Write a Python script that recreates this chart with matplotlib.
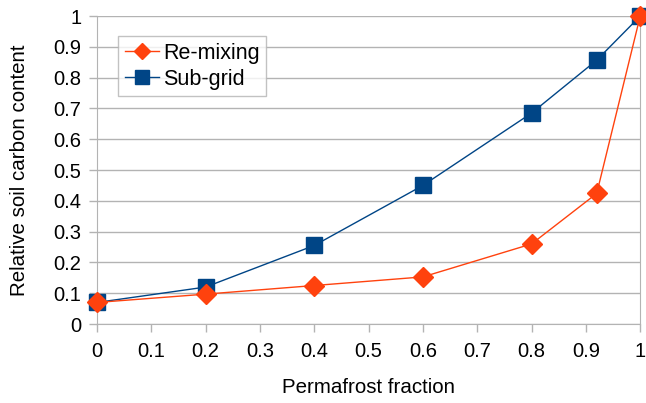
import matplotlib.pyplot as plt

plt.rcParams['font.family'] = ['Liberation Sans', 'DejaVu Sans']

frac = [0, 0.2, 0.4, 0.6, 0.8, 0.92, 1.0]
remixing = [0.07, 0.097, 0.125, 0.153, 0.26, 0.424, 1.0]
subgrid = [0.07, 0.12, 0.255, 0.45, 0.685, 0.857, 1.0]

xticks = [0, 0.1, 0.2, 0.3, 0.4, 0.5, 0.6, 0.7, 0.8, 0.9, 1]
yticks = [0, 0.1, 0.2, 0.3, 0.4, 0.5, 0.6, 0.7, 0.8, 0.9, 1]

fig = plt.figure(figsize=(6.46, 4.03), dpi=100)
ax = fig.add_axes([0.150, 0.196, 0.841, 0.764])

grid_c = '#b3b3b3'
ax.plot(frac, subgrid, color='#004586', lw=1, marker='s', ms=12,
        label='Sub-grid', zorder=3, clip_on=False)
ax.plot(frac, remixing, color='#ff420e', lw=1, marker='D', ms=10,
        label='Re-mixing', zorder=4, clip_on=False)

ax.set_xlim(0, 1)
ax.set_ylim(0, 1)
ax.set_xticks(xticks)
ax.set_xticklabels([f'{v:g}' for v in xticks])
ax.set_yticks(yticks)
ax.set_yticklabels([f'{v:g}' for v in yticks])
ax.yaxis.grid(True, color=grid_c, lw=1)
ax.set_axisbelow(True)
ax.spines['top'].set_visible(False)
for s in ['left', 'right', 'bottom']:
    ax.spines[s].set_color(grid_c)
ax.tick_params(axis='both', colors=grid_c, labelcolor='black', labelsize=14.5,
               length=6, width=1)
ax.tick_params(axis='x', pad=7)
ax.tick_params(axis='y', pad=5)

ax.set_xlabel('Permafrost fraction', fontsize=14.8, labelpad=12)
ax.set_ylabel('Relative soil carbon content', fontsize=14.8, labelpad=18)

h, l = ax.get_legend_handles_labels()
leg = ax.legend(h[::-1], l[::-1], loc='upper left', bbox_to_anchor=(0.039, 0.935),
                fontsize=15.5, frameon=True, fancybox=False, handlelength=1.6,
                handletextpad=0.2, borderpad=0.3, labelspacing=0.25,
                markerscale=0.85, borderaxespad=0)
leg.get_frame().set_edgecolor(grid_c)
leg.get_frame().set_linewidth(1)

fig.savefig('out.png', dpi=100)
